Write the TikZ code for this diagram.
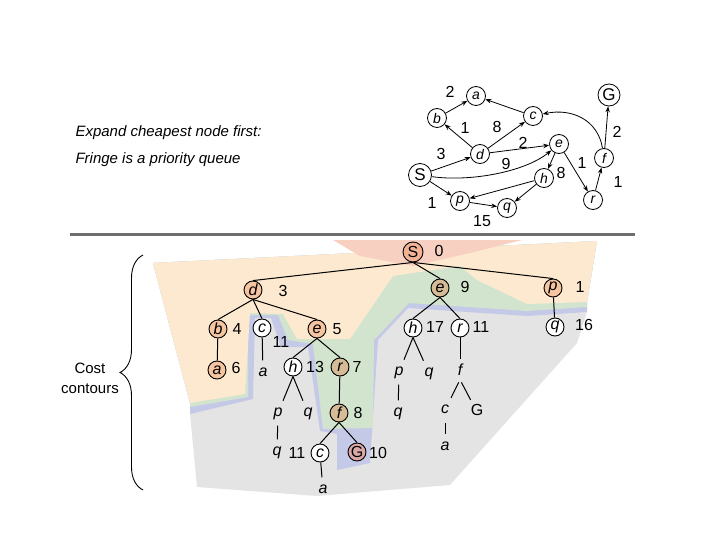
\documentclass[tikz,border=0pt]{standalone}
\usepackage{fontspec}
\setmainfont{Liberation Sans}
\usepackage{tikz}
\usetikzlibrary{arrows.meta, decorations.pathreplacing, calc}
\definecolor{pinkc}{RGB}{248,208,194}
\definecolor{orangec}{RGB}{253,233,207}
\definecolor{greenc}{RGB}{210,228,205}
\definecolor{bluec}{RGB}{197,201,232}
\definecolor{grayc}{RGB}{228,228,228}
\definecolor{nodeor}{RGB}{245,196,160}
\definecolor{nodetan}{RGB}{214,188,150}
\definecolor{nodeG}{RGB}{218,166,166}
\definecolor{nodeS}{RGB}{243,178,150}
\definecolor{rulec}{RGB}{110,110,110}

\begin{document}
\begin{tikzpicture}[x=1pt,y=-1pt,
  every node/.style={font=\fontsize{16}{19}\selectfont},
  tnode/.style={circle,draw,line width=0.9pt,minimum size=18pt,inner sep=0pt,font=\fontsize{16}{19}\selectfont\itshape},
  gnode/.style={circle,draw,line width=0.8pt,minimum size=19pt,inner sep=0pt,font=\fontsize{14}{16}\selectfont\itshape},
  leaf/.style={inner sep=1pt,text height=10pt,text depth=3pt,font=\fontsize{16}{19}\selectfont\itshape},
  gedge/.style={-{Stealth[length=6pt,width=4.5pt]},line width=0.8pt},
  tedge/.style={line width=1pt},
  tleaf/.style={tedge,shorten >=5pt}]
  \useasboundingbox (0,0) rectangle (720,540);

  % cost contours
  \fill[grayc] (153,263) -- (597,241) -- (587,302) -- (587,312) -- (577,343) -- (450,485) -- (317,496) -- (197,487) -- (190,414) -- (190,403) -- cycle;
  \fill[bluec] (153,263) -- (597,241) -- (587,302) -- (587,312) -- (527,316) -- (408,308) -- (378,340) -- (370,463) -- (337,470) -- (337,434) -- (320,431) -- (308,347) -- (281,347) -- (271,318) -- (255,318) -- (253,399) -- (190,414) -- (190,403) -- cycle;
  \fill[greenc] (153,263) -- (597,241) -- (587,302) -- (587,307) -- (527,311) -- (409,303) -- (374,340) -- (373,428) -- (323,429) -- (313,344) -- (288,340) -- (278,315) -- (248,315) -- (248,397) -- (190,407) -- (190,403) -- cycle;
  \fill[orangec] (153,263) -- (597,241) -- (587,302) -- (527,304) -- (477,280) -- (460,266) -- (393,276) -- (350,339) -- (297,339) -- (283,314) -- (250,313) -- (245,394) -- (190,403) -- cycle;
  \fill[pinkc] (333,240) -- (522,240) -- (470,253) -- (413,266) -- (360,256) -- cycle;

  \node[anchor=base west,font=\fontsize{15}{18}\selectfont\itshape] (line1) at (72,137) {Expand cheapest node first:};
  \node[anchor=base west,font=\fontsize{15}{18}\selectfont\itshape] (line2) at (72,164) {Fringe is a priority queue};

  % state graph
  \node[gnode,minimum size=23pt,font=\fontsize{17}{19}\selectfont] (S) at (420,175) {S};
  \node[gnode] (a) at (476,96) {a}; \node[gnode] (b) at (437,118) {b};
  \node[gnode] (c) at (533,116) {c}; \node[gnode] (d) at (480,154) {d};
  \node[gnode] (e) at (559,144) {e}; \node[gnode] (h) at (544,178) {h};
  \node[gnode] (p) at (460,201) {p}; \node[gnode] (q) at (507,208) {q};
  \node[gnode] (r) at (593,200) {r}; \node[gnode] (f) at (604,158) {f};
  \node[gnode,minimum size=22pt,font=\fontsize{17}{19}\selectfont] (G) at (609,95) {G};
  \draw[gedge] (b) -- (a); \draw[gedge] (c) -- (a);
  \draw[gedge] (d) -- (b); \draw[gedge] (d) -- (c); \draw[gedge] (d) -- (e);
  \draw[gedge] (S) -- (d); \draw[gedge] (S) .. controls (470,182) and (525,172) .. (e);
  \draw[gedge] (e) -- (h); \draw[gedge] (e) -- (r);
  \draw[gedge] (h) -- (p); \draw[gedge] (h) -- (q);
  \draw[gedge] (S) -- (p); \draw[gedge] (p) -- (q);
  \draw[gedge] (r) -- (f); \draw[gedge] (f) -- (G);
  \draw[gedge] (f) .. controls (598,120) and (572,108) .. (c);
  \node (wba) at (450,92) {2}; \node (wdb) at (465,128) {1};
  \node (wdc) at (497,127) {8}; \node (wde) at (523,143) {2};
  \node (wSd) at (441,154) {3}; \node (wSe) at (506,164) {9};
  \node (weh) at (561,173) {8}; \node (wer) at (582,163) {1};
  \node (wfG) at (617,132) {2}; \node (wrf) at (618,182) {1};
  \node (wSp) at (432,203) {1}; \node (wpq) at (482,221) {15};

  \draw[rulec,line width=3pt] (70,234) -- (635,234);

  % search tree
  \node[tnode,fill=nodeS,minimum size=20pt,font=\fontsize{16}{19}\selectfont] (tS) at (413,252) {S}; \node (cS) at (439,251) {0};
  \node[tnode,fill=nodeor] (td) at (253,290) {d}; \node (cd) at (283,291) {3};
  \node[tnode,fill=nodetan] (te) at (440,288) {e}; \node (ce) at (465,287) {9};
  \node[tnode,fill=nodeor] (tp) at (553,288) {p}; \node (cp) at (580,287) {1};
  \node[tnode,fill=nodeor] (tb) at (218,329) {b}; \node (cb) at (237,329) {4};
  \node[tnode,fill=white] (tc) at (262,328) {c}; \node (cc) at (281,342) {11};
  \node[tnode,fill=nodeor] (te2) at (317,329) {e}; \node (ce2) at (337,329) {5};
  \node[tnode,fill=white] (th) at (413,328) {h}; \node (ch) at (435,327) {17};
  \node[tnode,fill=white] (tr) at (460,328) {r}; \node (cr) at (481,327) {11};
  \node[tnode,fill=white] (tq) at (555,327) {q}; \node (cq) at (584,325) {16};
  \node[tnode,fill=nodeor] (ta) at (217,370) {a}; \node (ca) at (236,368) {6};
  \node[leaf] (la1) at (263,373) {a};
  \node[tnode,fill=white] (th2) at (293,367) {h}; \node (ch2) at (315,367) {13};
  \node[tnode,fill=nodetan] (tr2) at (340,367) {r}; \node (cr2) at (357,367) {7};
  \node[leaf] (lp1) at (399,372) {p}; \node[leaf] (lq1) at (429,373) {q};
  \node[leaf] (lf1) at (460,372) {f};
  \node[leaf] (lp2) at (278,413) {p}; \node[leaf] (lq2) at (308,413) {q};
  \node[tnode,fill=nodetan] (tf) at (339,413) {f}; \node (cf) at (358,413) {8};
  \node[leaf] (lq3) at (398,413) {q};
  \node[leaf] (lc1) at (445,410) {c}; \node[leaf,font=\fontsize{16}{19}\selectfont] (lG1) at (477,412) {G};
  \node[leaf] (lq4) at (277,452) {q};
  \node (cc2) at (297,453) {11}; \node[tnode,fill=white] (tc2) at (320,453) {c};
  \node[tnode,fill=nodeG,font=\fontsize{16}{19}\selectfont] (tG) at (357,452) {G}; \node (cG) at (378,453) {10};
  \node[leaf] (la2) at (445,447) {a};
  \node[leaf] (la3) at (323,490) {a};

  \draw[tedge] (tS.south) -- (td.north); \draw[tedge] (tS.south) -- (te.north); \draw[tedge] (tS.south) -- (tp.north);
  \draw[tedge] (td.south) -- (tb.north); \draw[tedge] (td.south) -- (tc.north); \draw[tedge] (td.south) -- (te2.north);
  \draw[tedge] (tb) -- (ta); \draw[tleaf] (tc) -- (la1);
  \draw[tedge] (te2.south) -- (th2.north); \draw[tedge] (te2.south) -- (tr2.north);
  \draw[tleaf] (th2.south) -- (lp2); \draw[tleaf] (th2.south) -- (lq2);
  \draw[tleaf,shorten <=5pt] (lp2) -- (lq4);
  \draw[tedge] (tr2) -- (tf);
  \draw[tedge] (tf.south) -- (tc2.north); \draw[tedge] (tf.south) -- (tG.north);
  \draw[tleaf] (tc2) -- (la3);
  \draw[tedge] (te.south) -- (th.north); \draw[tedge] (te.south) -- (tr.north);
  \draw[tleaf] (th.south) -- (lp1); \draw[tleaf] (th.south) -- (lq1);
  \draw[tleaf,shorten <=5pt] (lp1) -- (lq3);
  \draw[tleaf] (tr) -- (lf1);
  \draw[tleaf,shorten <=3pt] (lf1.south) -- (lc1); \draw[tleaf,shorten <=3pt] (lf1.south) -- (lG1);
  \draw[tleaf,shorten <=5pt] (lc1) -- (la2);
  \draw[tedge] (tp) -- (tq);

  \coordinate (bb) at (143,490); \coordinate (bt) at (143,255);
  \draw[decorate,decoration={brace,amplitude=23pt},line width=0.9pt] (bb) -- (bt);
  \node[align=center,font=\fontsize{15}{20}\selectfont] (cost) at (90,378) {Cost\\contours};
\end{tikzpicture}
\end{document}
